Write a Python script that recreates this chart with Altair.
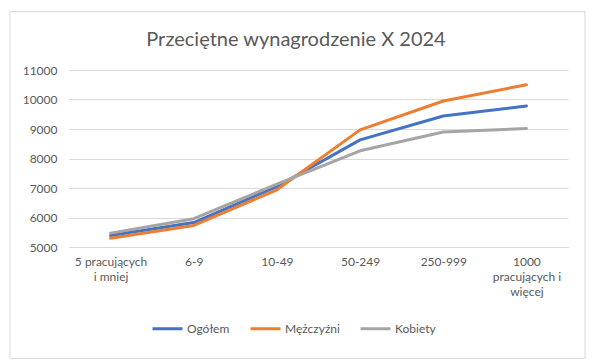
import altair as alt
import pandas as pd

categories = ["5 pracujących|i mniej", "6-9", "10-49", "50-249", "250-999", "1000|pracujących i|więcej"]
ogolem = [5390, 5830, 7050, 8630, 9440, 9780]
mezczyzni = [5300, 5730, 6940, 8970, 9950, 10500]
kobiety = [5470, 5960, 7130, 8260, 8900, 9015]
series = ["Ogółem", "Mężczyźni", "Kobiety"]
colors = ["#4472C4", "#ED7D31", "#A5A5A5"]
y_ticks = [5000, 6000, 7000, 8000, 9000, 10000, 11000]
title_text = "Przeciętne wynagrodzenie X 2024"

rows = []
for name, vals in zip(series, [ogolem, mezczyzni, kobiety]):
    for c, v in zip(categories, vals):
        rows.append({"kategoria": c, "seria": name, "wartosc": v})
df = pd.DataFrame(rows)

FONT = "Lato"
GREY = "#595959"

frame = alt.Chart(pd.DataFrame({"a": [0]})).mark_rect(
    fillOpacity=0, stroke="#D9D9D9", strokeWidth=1
).encode(
    x=alt.value(-59), x2=alt.value(516), y=alt.value(-58.5), y2=alt.value(288.5)
)

title = alt.Chart(pd.DataFrame({"t": [title_text]})).mark_text(
    font=FONT, fontSize=20, color=GREY, baseline="alphabetic", align="center"
).encode(text="t:N", x=alt.value(227), y=alt.value(-24.5))

lines = alt.Chart(df).mark_line(strokeWidth=3, strokeCap="round", strokeJoin="round").encode(
    x=alt.X("kategoria:N", sort=categories,
            scale=alt.Scale(type="point", padding=0.5),
            axis=alt.Axis(title=None, labelAngle=0, ticks=False, grid=False,
                          domainColor="#D9D9D9", labelColor=GREY, labelFont=FONT,
                          labelFontSize=12, labelPadding=9, labelLineHeight=15,
                          labelExpr="split(datum.value, '|')")),
    y=alt.Y("wartosc:Q", scale=alt.Scale(domain=[5000, 11000], nice=False, zero=False),
            axis=alt.Axis(title=None, values=y_ticks, format="d", ticks=False, domain=False,
                          gridColor="#D9D9D9", labelColor=GREY, labelFont=FONT,
                          labelFontSize=12, labelPadding=12)),
    color=alt.Color("seria:N", sort=series,
                    scale=alt.Scale(domain=series, range=colors),
                    legend=alt.Legend(title=None, orient="none", direction="horizontal",
                                      legendX=82, legendY=242, symbolType="stroke",
                                      symbolSize=900, symbolStrokeWidth=3,
                                      labelFont=FONT, labelFontSize=12, labelColor=GREY,
                                      labelOffset=3, columnPadding=14)),
    order=alt.Order("seria:N")
)

chart = alt.layer(frame, title, lines).properties(
    width=499, height=177,
    autosize=alt.AutoSizeParams(type="none"),
    padding={"left": 61, "top": 62, "right": 20, "bottom": 115},
).configure_view(stroke=None)

chart.save("out.html", embed_options={"renderer": "svg", "actions": False})
